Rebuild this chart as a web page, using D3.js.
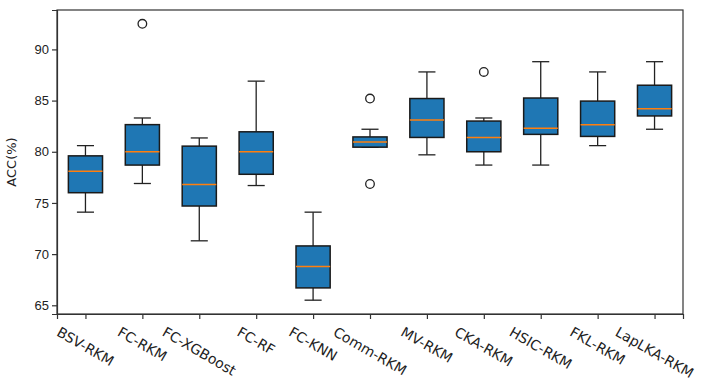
<!DOCTYPE html>
<html>
<head>
<meta charset="utf-8">
<script src="https://cdn.jsdelivr.net/npm/d3@7"></script>
<style>
    body { margin: 0; background: #fff; }
    svg { display: block; font-family: "DejaVu Sans", sans-serif; }
    .axis text { font-size: 13px; fill: #222; }
    .axis path, .axis line { stroke: #333; stroke-width: 1.2px; }
</style>
</head>
<body>
<svg id="chart"></svg>
<script>
var METHODS = ['BSV-RKM', 'FC-RKM', 'FC-XGBoost', 'FC-RF', 'FC-KNN', 'Comm-RKM',
               'MV-RKM', 'CKA-RKM', 'HSIC-RKM', 'FKL-RKM', 'LapLKA-RKM'];
// box summaries (ACC %)
var WHISKER_LOW = [74.1, 76.9, 71.3, 76.7, 65.5, 80.45, 79.7, 78.7, 78.7, 80.6, 82.2];
var Q1          = [76.0, 78.7, 74.7, 77.8, 66.7, 80.45, 81.4, 80.0, 81.7, 81.5, 83.5];
var MEDIAN      = [78.1, 80.0, 76.8, 80.0, 68.8, 80.95, 83.1, 81.4, 82.3, 82.65, 84.2];
var Q3          = [79.6, 82.65, 80.55, 81.95, 70.8, 81.45, 85.2, 83.0, 85.25, 84.95, 86.5];
var WHISKER_HIGH = [80.6, 83.3, 81.35, 86.9, 74.1, 82.2, 87.8, 83.3, 88.8, 87.8, 88.8];
var OUTLIERS    = [[], [92.5], [], [], [], [85.2, 76.85], [], [87.8], [], [], []];
var Y_TICKS = [65, 70, 75, 80, 85, 90];

(function () {
    var WIDTH = 728, HEIGHT = 388;
    var MARGIN = {left: 57, top: 10, right: 45, bottom: 74};
    var BOX_WIDTH = 0.6; // in category units
    var BOX_COLOR = '#1f77b4', MEDIAN_COLOR = '#ff7f0e';

    var w = WIDTH - MARGIN.left - MARGIN.right;
    var h = HEIGHT - MARGIN.top - MARGIN.bottom;

    var svg = d3.select('#chart').attr('width', WIDTH).attr('height', HEIGHT);
    var chart = svg.append('g')
        .attr('transform', 'translate(' + MARGIN.left + ', ' + MARGIN.top + ')');

    // positions 1..n like matplotlib, with half a unit of padding on each side
    var xScale = d3.scaleLinear().domain([0.5, METHODS.length + 0.5]).range([0, w]);
    var allVals = WHISKER_LOW.concat(WHISKER_HIGH, d3.merge(OUTLIERS));
    var lo = d3.min(allVals), hi = d3.max(allVals), pad = (hi - lo) * 0.05;
    var yScale = d3.scaleLinear().domain([lo - pad, hi + pad]).range([h, 0]);
    var unit = xScale(2) - xScale(1);

    var yAxis = d3.axisLeft(yScale).tickValues(Y_TICKS).tickSize(5).tickPadding(3);
    chart.append('g').attr('class', 'axis').call(yAxis);

    var xAxis = d3.axisBottom(xScale).tickValues(d3.range(1, METHODS.length + 1))
        .tickSize(5).tickFormat('');
    chart.append('g').attr('class', 'axis')
        .attr('transform', 'translate(0, ' + h + ')')
        .call(xAxis);

    // frame
    chart.append('rect').attr('width', w).attr('height', h)
        .attr('fill', 'none').attr('stroke', '#333').attr('stroke-width', 1.2);

    // rotated category labels, bbox centered under each tick
    var labelTop = h + 11;
    var ang = 30 * Math.PI / 180;
    chart.append('g').selectAll('text').data(METHODS).enter().append('text')
        .attr('text-anchor', 'middle')
        .attr('dominant-baseline', 'central')
        .style('font-size', '14px').style('fill', '#222')
        .text(function (d) { return d; })
        .each(function (d, i) {
            var tw = this.getComputedTextLength(), th = 13;
            var bh = tw * Math.sin(ang) + th * Math.cos(ang);
            var cx = xScale(i + 1), cy = labelTop + bh / 2;
            d3.select(this).attr('transform', 'translate(' + cx + ',' + cy + ') rotate(30)');
        });

    chart.append('text')
        .attr('transform', 'rotate(-90)')
        .attr('x', -h / 2).attr('y', -41)
        .attr('text-anchor', 'middle')
        .style('font-size', '13px').style('fill', '#222')
        .text('ACC(%)');

    var boxes = chart.append('g').selectAll('g').data(METHODS).enter().append('g');

    boxes.each(function (d, i) {
        var g = d3.select(this);
        var cx = xScale(i + 1);
        var bw = BOX_WIDTH * unit, cw = bw / 2;

        // whiskers
        g.append('line').attr('x1', cx).attr('x2', cx)
            .attr('y1', yScale(WHISKER_LOW[i])).attr('y2', yScale(Q1[i]))
            .attr('stroke', '#222').attr('stroke-width', 1.3);
        g.append('line').attr('x1', cx).attr('x2', cx)
            .attr('y1', yScale(Q3[i])).attr('y2', yScale(WHISKER_HIGH[i]))
            .attr('stroke', '#222').attr('stroke-width', 1.3);
        [WHISKER_LOW[i], WHISKER_HIGH[i]].forEach(function (v) {
            g.append('line').attr('x1', cx - cw / 2).attr('x2', cx + cw / 2)
                .attr('y1', yScale(v)).attr('y2', yScale(v))
                .attr('stroke', '#222').attr('stroke-width', 1.3);
        });

        g.append('rect')
            .attr('x', cx - bw / 2).attr('width', bw)
            .attr('y', yScale(Q3[i])).attr('height', yScale(Q1[i]) - yScale(Q3[i]))
            .attr('fill', BOX_COLOR).attr('stroke', '#1a1a1a').attr('stroke-width', 1.5);

        g.append('line').attr('x1', cx - bw / 2).attr('x2', cx + bw / 2)
            .attr('y1', yScale(MEDIAN[i])).attr('y2', yScale(MEDIAN[i]))
            .attr('stroke', MEDIAN_COLOR).attr('stroke-width', 1.5);

        g.selectAll('circle').data(OUTLIERS[i]).enter().append('circle')
            .attr('cx', cx).attr('cy', function (v) { return yScale(v); })
            .attr('r', 4.3)
            .attr('fill', 'none').attr('stroke', '#222').attr('stroke-width', 1.3);
    });
}());
</script>
</body>
</html>
